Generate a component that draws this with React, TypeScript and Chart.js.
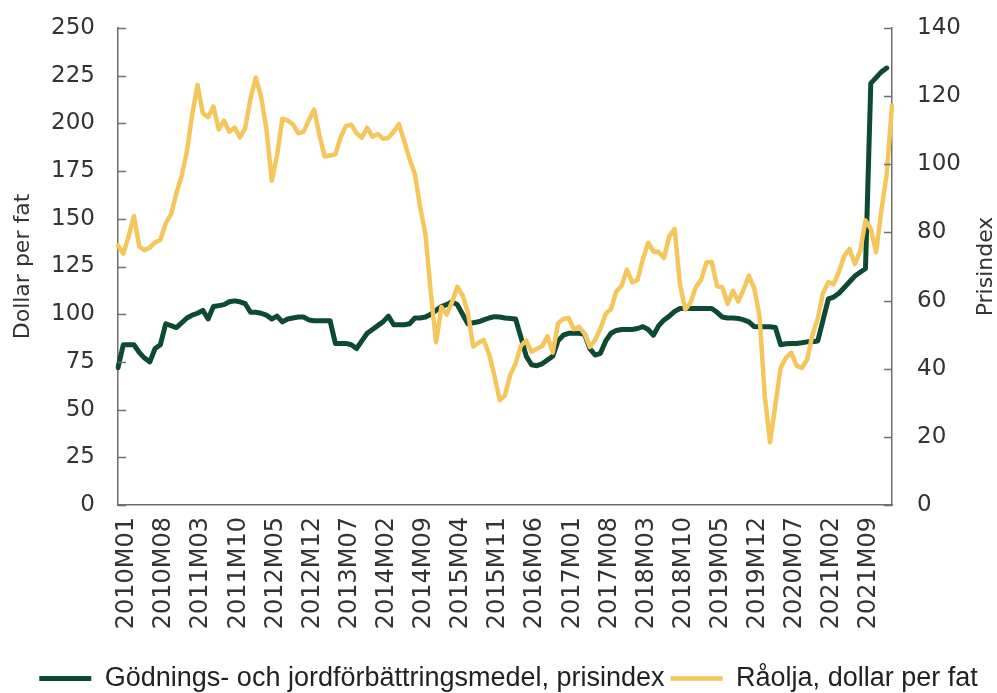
import React, { useEffect, useRef } from 'react';
import { Chart, registerables } from 'chart.js';

Chart.register(...registerables);

// Categories: monthly 2010M01 .. 2022M03
const START_YEAR = 2010;
const MONTH_COUNT = 147;
const categories: string[] = [];
for (let k = 0; k < MONTH_COUNT; k++) {
  const y = START_YEAR + Math.floor(k / 12);
  const m = (k % 12) + 1;
  categories.push(`${y}M${m < 10 ? '0' + m : m}`);
}

// Tick labels shown on the x axis
const shownTicks = [
  '2010M01', '2010M08', '2011M03', '2011M10', '2012M05', '2012M12', '2013M07',
  '2014M02', '2014M09', '2015M04', '2015M11', '2016M06', '2017M01', '2017M08',
  '2018M03', '2018M10', '2019M05', '2019M12', '2020M07', '2021M02', '2021M09',
];

// Gödnings- och jordförbättringsmedel, prisindex (left axis)
const fertilizerIndex = [
  72, 84, 84, 84, 80, 77, 75, 82, 84, 95, 94, 93,
  95.5, 98, 99.5, 100.5, 102, 97.5, 104, 104.5, 105, 106.5, 107, 106.5,
  105.5, 101, 101, 100.5, 99.5, 97.5, 99, 96, 97.5, 98, 98.5, 98.5,
  97, 96.6, 96.6, 96.6, 96.6, 84.7, 84.7, 84.7, 84, 82, 86, 90,
  92, 94, 96, 99, 94.5, 94.5, 94.5, 95, 98, 98, 98.5, 100,
  102, 104, 105, 106.5, 105, 100, 95, 95.5, 96, 97, 98, 98.7,
  98.5, 98, 97.8, 97.5, 88, 78, 73.5, 73, 74, 76, 78, 86,
  89, 90, 90, 90, 89.5, 82, 78.6, 79.5, 86, 90, 91.5, 92,
  92, 92, 92.5, 93.5, 92, 89, 94, 97, 99, 101.5, 103, 103,
  103, 103, 103, 103, 103, 101, 98.5, 98, 98, 97.8, 97, 96,
  93.5, 93.4, 93.4, 93.4, 93, 84, 84.5, 84.7, 84.7, 85, 85.5, 85.6,
  86, 97, 108, 109, 111, 114, 117, 120, 122, 124, 221, 224,
  227, 229,
];

// Råolja, dollar per fat (right axis)
const crudeOil = [
  76.17, 73.75, 78.83, 84.82, 75.95, 74.76, 75.58, 77.04, 77.84, 82.67, 85.28, 91.45,
  96.52, 103.72, 114.64, 123.26, 114.99, 113.83, 116.97, 110.22, 112.83, 109.55, 110.77, 107.87,
  110.69, 119.33, 125.45, 119.75, 110.34, 95.16, 102.62, 113.36, 112.86, 111.71, 109.06, 109.49,
  112.96, 116.05, 108.47, 102.25, 102.56, 102.92, 107.93, 111.28, 111.6, 109.08, 107.79, 110.76,
  108.12, 108.9, 107.48, 107.76, 109.54, 111.8, 106.77, 101.61, 97.09, 87.43, 79.44, 62.34,
  47.76, 58.1, 55.89, 59.52, 64.08, 61.48, 56.56, 46.52, 47.62, 48.43, 44.27, 38.01,
  30.7, 32.18, 38.21, 41.58, 46.74, 48.25, 44.95, 45.84, 46.57, 49.52, 44.73, 53.31,
  54.58, 54.87, 51.59, 52.31, 50.33, 46.37, 48.48, 51.7, 56.15, 57.51, 62.71, 64.37,
  69.08, 65.32, 66.02, 72.11, 76.98, 74.41, 74.25, 72.53, 78.89, 81.03, 64.75, 57.36,
  59.41, 63.96, 66.14, 71.23, 71.32, 64.22, 63.92, 59.04, 62.83, 59.71, 63.21, 67.31,
  63.65, 55.66, 32.01, 18.38, 29.38, 40.27, 43.24, 44.74, 40.91, 40.19, 42.69, 49.99,
  54.77, 62.28, 65.41, 64.81, 68.53, 73.16, 75.17, 70.75, 74.49, 83.54, 81.05, 74.17,
  86.51, 97.13, 117.25,
];

const GREEN = '#0e4a31';
const YELLOW = '#f4c65c';
const AXIS = '#6e6e6e';
const TEXT = '#333333';
const TICK_FONT = "'DejaVu Sans', sans-serif";

const innerTicksAndTitles = {
  id: 'innerTicksAndTitles',
  afterLayout(chart: any) {
    if (chart.legend) {
      chart.legend.top += 9;
      chart.legend.bottom += 9;
    }
  },
  afterDraw(chart: any) {
    const ctx = chart.ctx;
    const area = chart.chartArea;
    const yL = chart.scales.y;
    const yR = chart.scales.y1;
    ctx.save();
    ctx.strokeStyle = AXIS;
    ctx.lineWidth = 1.5;
    yL.ticks.forEach((t: any) => {
      const py = Math.round(yL.getPixelForValue(t.value)) + 0.5;
      ctx.beginPath();
      ctx.moveTo(area.left, py);
      ctx.lineTo(area.left + 8, py);
      ctx.stroke();
    });
    yR.ticks.forEach((t: any) => {
      const py = Math.round(yR.getPixelForValue(t.value)) + 0.5;
      ctx.beginPath();
      ctx.moveTo(area.right - 8, py);
      ctx.lineTo(area.right, py);
      ctx.stroke();
    });
    const midY = (area.top + area.bottom) / 2;
    ctx.fillStyle = TEXT;
    ctx.font = `22px ${TICK_FONT}`;
    ctx.textAlign = 'center';
    ctx.textBaseline = 'middle';
    ctx.save();
    ctx.translate(23, midY);
    ctx.rotate(-Math.PI / 2);
    ctx.fillText('Dollar per fat', 0, 0);
    ctx.restore();
    ctx.save();
    ctx.translate(986, midY);
    ctx.rotate(-Math.PI / 2);
    ctx.fillText('Prisindex', 0, 0);
    ctx.restore();
    ctx.restore();
  },
};

export default function App() {
  const canvasRef = useRef<HTMLCanvasElement | null>(null);

  useEffect(() => {
    if (!canvasRef.current) return;
    const chart = new Chart(canvasRef.current, {
      type: 'line',
      data: {
        labels: categories,
        datasets: [
          {
            label: 'Gödnings- och jordförbättringsmedel, prisindex',
            data: fertilizerIndex,
            borderColor: GREEN,
            backgroundColor: GREEN,
            borderWidth: 5,
            pointRadius: 0,
            pointStyle: 'line',
            tension: 0,
            borderJoinStyle: 'round',
            borderCapStyle: 'round',
            yAxisID: 'y',
            order: 1,
          },
          {
            label: 'Råolja, dollar per fat',
            data: crudeOil,
            borderColor: YELLOW,
            backgroundColor: YELLOW,
            borderWidth: 4.5,
            pointRadius: 0,
            pointStyle: 'line',
            tension: 0,
            borderJoinStyle: 'round',
            borderCapStyle: 'round',
            yAxisID: 'y1',
            order: 0,
          },
        ],
      },
      options: {
        responsive: true,
        maintainAspectRatio: false,
        animation: false,
        layout: { padding: { left: 20, right: 0, top: 28, bottom: 0 } },
        plugins: {
          tooltip: { enabled: false },
          legend: {
            position: 'bottom',
            labels: {
              usePointStyle: true,
              pointStyle: 'line',
              pointStyleWidth: 52,
              padding: 6,
              color: '#222222',
              font: { family: "'Liberation Sans', Arial, sans-serif", size: 27 },
              sort: (a: any, b: any) => a.datasetIndex - b.datasetIndex,
            },
          },
        },
        scales: {
          x: {
            type: 'category',
            grid: { display: false, drawTicks: false },
            border: { display: true, color: AXIS, width: 1.5 },
            ticks: {
              autoSkip: false,
              minRotation: 90,
              maxRotation: 90,
              padding: 12,
              labelOffset: 9,
              color: TEXT,
              font: { family: TICK_FONT, size: 24 },
              callback: (_v: any, i: number) => (shownTicks.includes(categories[i]) ? categories[i] : ''),
            },
            afterFit: (scale: any) => {
              const legendH = scale.chart.legend ? scale.chart.legend.height : 0;
              scale.height = scale.chart.height - 505 - legendH;
            },
          },
          y: {
            position: 'left',
            min: 0,
            max: 250,
            grid: { display: false, drawTicks: false },
            border: { display: true, color: AXIS, width: 1.5 },
            ticks: {
              stepSize: 25,
              padding: 23,
              color: TEXT,
              font: { family: TICK_FONT, size: 23 },
            },
            afterFit: (scale: any) => {
              scale.width = 98;
              scale.paddingTop = 0;
              scale.paddingBottom = 0;
            },
          },
          y1: {
            position: 'right',
            min: 0,
            max: 140,
            grid: { display: false, drawTicks: false },
            border: { display: true, color: AXIS, width: 1.5 },
            ticks: {
              stepSize: 20,
              padding: 25,
              color: TEXT,
              font: { family: TICK_FONT, size: 23 },
            },
            afterFit: (scale: any) => {
              scale.width = 105;
              scale.paddingTop = 0;
              scale.paddingBottom = 0;
            },
          },
        },
      },
      plugins: [innerTicksAndTitles],
    });
    return () => chart.destroy();
  }, []);

  return (
    <div style={{ position: 'fixed', left: 0, top: 0, width: 997, height: 693, background: '#ffffff' }}>
      <canvas ref={canvasRef} />
    </div>
  );
}
